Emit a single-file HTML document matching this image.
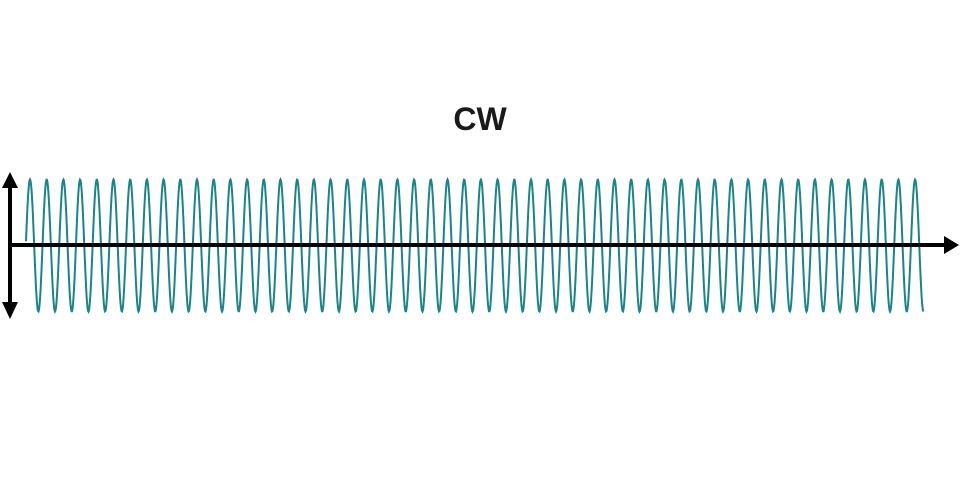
<!DOCTYPE html>
<html><head><meta charset="utf-8"><style>
html,body{margin:0;padding:0;background:#fff;width:960px;height:480px;overflow:hidden}
</style></head><body>
<svg id="s" width="960" height="480" viewBox="0 0 960 480" xmlns="http://www.w3.org/2000/svg">
<text x="480" y="130" text-anchor="middle" font-family="Liberation Sans, sans-serif" font-weight="bold" font-size="32" fill="#1a1a1a">CW</text>
<path id="w" d="" fill="none" stroke="#1a8589" stroke-width="2"/>
<line x1="10" y1="245" x2="946" y2="245" stroke="#000" stroke-width="4"/>
<polygon points="944,236 959,245 944,254" fill="#000"/>
<line x1="10" y1="184" x2="10" y2="306" stroke="#000" stroke-width="4"/>
<polygon points="2,188 10,172 18,188" fill="#000"/>
<polygon points="2,302 10,319 18,302" fill="#000"/>
</svg>
<script>
var d="",p=16.7,x0=30,A=66,c=245.5;
for(var x=26;x<=923.5;x+=0.5){var y=c-A*Math.cos(2*Math.PI*(x-x0)/p);d+=(x==26?"M":"L")+x.toFixed(1)+","+y.toFixed(2);}
document.getElementById("w").setAttribute("d",d);
</script>
</body></html>
